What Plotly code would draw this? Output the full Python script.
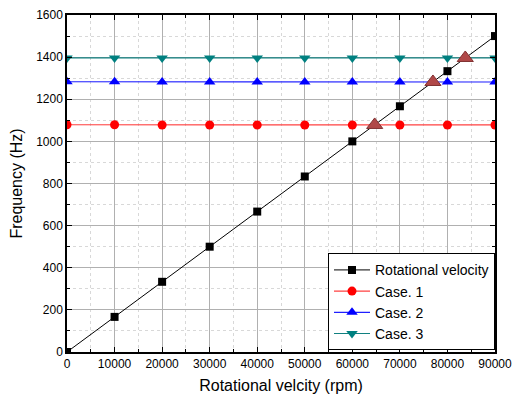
import plotly.graph_objects as go

rpm = [0, 10000, 20000, 30000, 40000, 50000, 60000, 70000, 80000, 90000]
rot_freq = [0, 166.7, 333.3, 500, 666.7, 833.3, 1000, 1166.7, 1333.3, 1500]
case1 = [1079, 1079, 1078, 1078, 1078, 1078, 1078, 1078, 1078, 1078]
case2 = [1283, 1283, 1282, 1282, 1282, 1282, 1282, 1282, 1282, 1282]
case3 = [1396, 1396, 1396, 1396, 1396, 1396, 1396, 1396, 1396, 1396]
cross_rpm = [64700, 76950, 83750]
cross_freq = [1078, 1282, 1396]

FONT = "Liberation Sans, Arial"

fig = go.Figure()
fig.add_trace(go.Scatter(x=rpm, y=rot_freq, name="Rotational velocity", mode="lines+markers",
                         line=dict(color="black", width=1),
                         marker=dict(symbol="square", size=8, color="black")))
fig.add_trace(go.Scatter(x=rpm, y=case1, name="Case. 1", mode="lines+markers",
                         line=dict(color="#ff4040", width=1.2),
                         marker=dict(symbol="circle", size=9, color="#ff0000")))
fig.add_trace(go.Scatter(x=rpm, y=case2, name="Case. 2", mode="lines+markers",
                         line=dict(color="#2020ff", width=1.2),
                         marker=dict(symbol="triangle-up", size=10, color="#0000ff")))
fig.add_trace(go.Scatter(x=rpm, y=case3, name="Case. 3", mode="lines+markers",
                         line=dict(color="#108080", width=1.2),
                         marker=dict(symbol="triangle-down", size=10, color="#008080")))
fig.add_trace(go.Scatter(x=cross_rpm, y=cross_freq, mode="markers", showlegend=False,
                         marker=dict(symbol="triangle-up", size=14, color="#b04848",
                                     line=dict(color="#803030", width=1))))

axis_common = dict(
    showline=True, linecolor="black", linewidth=1.5, mirror="ticks",
    ticks="inside", ticklen=5, tickcolor="black", tickwidth=1,
    showgrid=True, gridcolor="#b0b0b0", gridwidth=1,
    zeroline=False, automargin=False, ticklabeloverflow="allow",
    tickfont=dict(family=FONT, size=12, color="black"),
)

fig.update_xaxes(range=[0, 90000], dtick=10000, tickformat="d",
                 title=dict(text="Rotational velcity (rpm)", font=dict(family=FONT, size=16, color="black"), standoff=10),
                 minor=dict(dtick=5000, ticks="inside", ticklen=3, tickcolor="black",
                            showgrid=True, gridcolor="#d8d8d8", griddash="dot", gridwidth=1),
                 **axis_common)
fig.update_yaxes(range=[0, 1600], dtick=200,
                 title=dict(text="Frequency (Hz)", font=dict(family=FONT, size=16, color="black"), standoff=10),
                 minor=dict(dtick=100, ticks="inside", ticklen=3, tickcolor="black",
                            showgrid=True, gridcolor="#d8d8d8", griddash="dot", gridwidth=1),
                 **axis_common)

fig.update_layout(
    width=512, height=401,
    margin=dict(l=67, r=17, t=15, b=49),
    paper_bgcolor="white", plot_bgcolor="white",
    font=dict(family=FONT, color="black"),
    legend=dict(x=1, xanchor="right", y=0.005, yanchor="bottom",
                bgcolor="white", bordercolor="black", borderwidth=1,
                font=dict(size=14), tracegroupgap=0, itemwidth=36),
)

fig.write_html("out.html", config={"displayModeBar": False},
               post_script="document.body.style.margin='0';")
